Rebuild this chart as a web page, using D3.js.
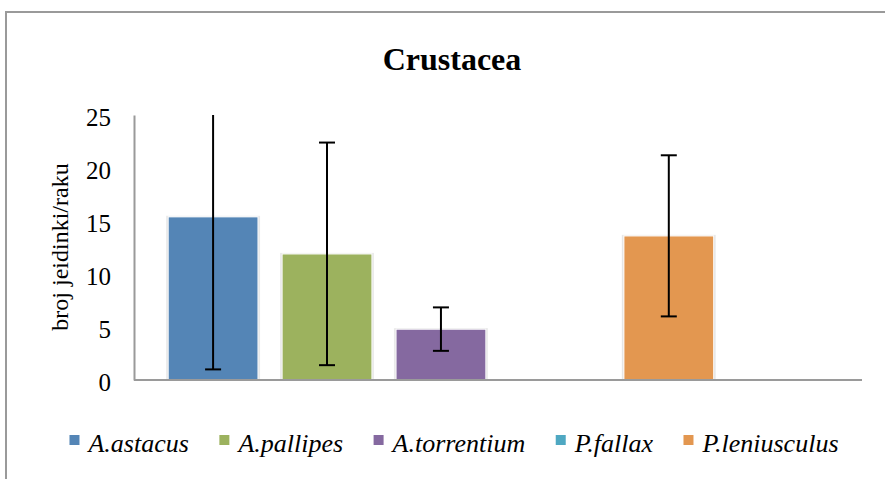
<!DOCTYPE html>
<html><head><meta charset="utf-8">
<script src="https://cdn.jsdelivr.net/npm/d3@7"></script>
</head><body style="margin:0">
<svg id="c" width="885" height="479" style="display:block"></svg>
<script>
const title = "Crustacea";
const yTitle = "broj jeidinki/raku";
const species = ["A.astacus", "A.pallipes", "A.torrentium", "P.fallax", "P.leniusculus"];
const means = [15.4, 11.9, 4.8, 0, 13.6];
const errors = [14.4, 10.5, 2.05, 0, 7.6];
const hasData = [true, true, true, false, true];
const colors = ["#5485B6", "#9CB25E", "#8569A0", "#4FA8C2", "#E39750"];
const yTicks = [0, 5, 10, 15, 20, 25];

const svg = d3.select("#c");
const FONT = '"Liberation Serif"';
function serifText(sel) {
  return sel.style("font-family", FONT);
}

// outer frame
svg.append("rect").attr("x", 6).attr("y", 12).attr("width", 900).attr("height", 500)
  .attr("fill", "none").attr("stroke", "#9a9a9a").attr("stroke-width", 2);

const pL = 134, pR = 862, pT = 115, pB = 380;
const yS = d3.scaleLinear().domain([0, 25]).range([pB, pT]);
const xS = d3.scaleBand().domain(species).range([pL, pR])
  .paddingInner(0.21).paddingOuter(0.8).align(0.187);

// title
serifText(svg.append("text")).attr("x", 452).attr("y", 70).attr("text-anchor", "middle")
  .style("font-weight", "bold").attr("font-size", 32).text(title);

// y title
serifText(svg.append("text")).attr("transform", "translate(68,247) rotate(-90)").attr("text-anchor", "middle")
  .attr("font-size", 24).attr("fill", "#000").text(yTitle);

// y axis
const yAxis = d3.axisLeft(yS).tickValues(yTicks).tickSize(0).tickPadding(23).tickFormat(d3.format("d"));
const gy = svg.append("g").attr("transform", `translate(${pL},0)`).call(yAxis);
gy.attr("font-family", null).attr("font-size", null);
gy.select(".domain").attr("stroke", "#9a9a9a").attr("stroke-width", 2);
serifText(gy.selectAll("text")).attr("font-size", 25).attr("fill", "#000").attr("dy", "0.42em");

// bars with soft edge shadow
const bars = svg.append("g");
species.forEach((s, i) => {
  if (!hasData[i]) return;
  const bx = xS(s), bw = xS.bandwidth(), by = yS(means[i]), bh = yS(0) - yS(means[i]);
  bars.append("rect").attr("x", bx - 2).attr("y", by - 1).attr("width", bw + 4).attr("height", bh + 1)
    .attr("fill", "#000").attr("fill-opacity", 0.08);
  bars.append("rect").attr("x", bx - 1).attr("y", by - 0.5).attr("width", bw + 2).attr("height", bh + 0.5)
    .attr("fill", "#000").attr("fill-opacity", 0.1);
  bars.append("rect").attr("x", bx).attr("y", by).attr("width", bw)
    .attr("height", bh).attr("fill", colors[i])
    .attr("stroke", "#fff").attr("stroke-width", 1.2);
});

// x axis
svg.append("line").attr("x1", pL).attr("x2", pR).attr("y1", pB).attr("y2", pB)
  .attr("stroke", "#9a9a9a").attr("stroke-width", 2);

// error bars (clamped to plot top)
const eg = svg.append("g").attr("stroke", "#000").attr("stroke-width", 2);
species.forEach((s, i) => {
  if (!hasData[i]) return;
  const cx = xS(s) + xS.bandwidth() / 2;
  const rawHi = yS(means[i] + errors[i]);
  const hi = Math.max(rawHi, pT), lo = yS(means[i] - errors[i]);
  eg.append("line").attr("x1", cx).attr("x2", cx).attr("y1", hi).attr("y2", lo);
  if (rawHi >= pT) eg.append("line").attr("x1", cx - 8).attr("x2", cx + 8).attr("y1", hi).attr("y2", hi);
  eg.append("line").attr("x1", cx - 8).attr("x2", cx + 8).attr("y1", lo).attr("y2", lo);
});

// legend
const lg = svg.append("g");
const items = [];
species.forEach((s, i) => {
  const g = lg.append("g");
  g.append("rect").attr("x", 0).attr("y", -17).attr("width", 10).attr("height", 10).attr("fill", colors[i]);
  const t = serifText(g.append("text")).attr("x", 19).attr("y", 0)
    .style("font-style", "italic").attr("font-size", 26).attr("fill", "#000").text(s);
  items.push({g, w: 19 + t.node().getComputedTextLength()});
});
const gap = 30.5;
const total = d3.sum(items, d => d.w) + gap * (items.length - 1);
let cx0 = 454 - total / 2;
items.forEach(it => { it.g.attr("transform", `translate(${cx0},452)`); cx0 += it.w + gap; });
</script>
</body></html>
